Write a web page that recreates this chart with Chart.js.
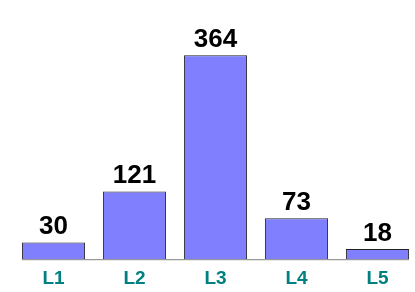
<!DOCTYPE html>
<html>
<head>
<meta charset="utf-8">
<script src="https://cdn.jsdelivr.net/npm/chart.js@4/dist/chart.umd.min.js"></script>
<style>
  html, body { margin: 0; padding: 0; background: #fff; overflow: hidden; }
  #wrap { position: relative; width: 418px; height: 292px; }
</style>
</head>
<body>
<div id="wrap"><canvas id="chart"></canvas></div>
<script>
const categories = ["L1", "L2", "L3", "L4", "L5"];
const values = [30, 121, 364, 73, 18];

// baseline line under the bars + value labels on top
const barExtras = {
  id: "barExtras",
  afterDatasetsDraw(chart) {
    const ctx = chart.ctx;
    const bars = chart.getDatasetMeta(0).data;
    const first = bars[0], last = bars[bars.length - 1];
    const base = chart.scales.y.getPixelForValue(0);
    ctx.save();
    ctx.strokeStyle = "#808080";
    ctx.lineWidth = 1;
    ctx.beginPath();
    ctx.moveTo(first.x - first.width / 2, base + 0.5);
    ctx.lineTo(last.x + last.width / 2, base + 0.5);
    ctx.stroke();

    ctx.fillStyle = "#000";
    ctx.font = "bold 26px 'Liberation Sans', Arial, sans-serif";
    ctx.textAlign = "center";
    ctx.textBaseline = "alphabetic";
    bars.forEach((bar, i) => {
      ctx.fillText(String(values[i]), bar.x, bar.y - 8);
    });
    ctx.restore();
  },
};

new Chart(document.getElementById("chart"), {
  type: "bar",
  data: {
    labels: categories,
    datasets: [
      {
        data: values,
        backgroundColor: "#8080FF",
        borderColor: "#222222",
        borderWidth: 1,
        borderSkipped: "bottom",
        barPercentage: 0.78,
        categoryPercentage: 1,
      },
    ],
  },
  options: {
    responsive: true,
    maintainAspectRatio: false,
    animation: false,
    layout: { padding: { left: 13, right: 0, top: 7, bottom: -6 } },
    plugins: {
      legend: { display: false },
      tooltip: { enabled: false },
    },
    scales: {
      x: {
        grid: { display: false, drawTicks: false },
        border: { display: false },
        ticks: {
          color: "#008080",
          font: { family: "'Liberation Sans', Arial, sans-serif", size: 19, weight: "bold" },
          padding: 8,
        },
      },
      y: {
        display: false,
        min: 0,
        max: 450,
      },
    },
  },
  plugins: [barExtras],
});
</script>
</body>
</html>
